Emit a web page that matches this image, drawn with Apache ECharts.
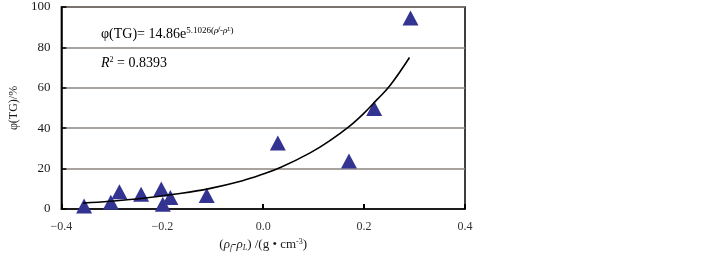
<!DOCTYPE html>
<html><head><meta charset="utf-8">
<script src="https://cdn.jsdelivr.net/npm/echarts@6/dist/echarts.min.js"></script>
<style>html,body{margin:0;padding:0;background:#fff}#c{width:722px;height:257px}</style>
</head><body><div id="c"></div>
<script>
// Measured samples (density difference, g/cm3) and φ(TG) %
const sampleX = [-0.355, -0.302, -0.285, -0.242, -0.202, -0.199, -0.184, -0.112, 0.029, 0.170, 0.220, 0.292];
const sampleY = [1.5, 3.4, 8.6, 7.3, 9.9, 2.4, 5.7, 6.7, 32.7, 23.8, 49.8, 94.5];
// Fitted trend curve
const curveX = [-0.357, -0.304, -0.238, -0.173, -0.107, -0.041, 0.000, 0.034, 0.093, 0.130, 0.172, 0.200, 0.225, 0.251, 0.290];
const curveY = [2.9, 3.8, 5.3, 7.4, 10.1, 14.0, 17.3, 20.5, 27.8, 33.5, 41.2, 47.5, 54.0, 61.0, 75.0];
const xTicks = [-0.4, -0.2, 0.0, 0.2, 0.4];
const yTicks = [0, 20, 40, 60, 80, 100];

const serif = '"Liberation Serif","DejaVu Serif",serif';
const ink = '#1a1a1a';
const chart = echarts.init(document.getElementById('c'), null, {renderer: 'canvas'});
chart.setOption({
  animation: false,
  grid: {left: 58, right: 257, top: 7, bottom: 44, show: true, borderColor: '#000', borderWidth: 1.5, backgroundColor: 'transparent'},
  xAxis: {
    type: 'value', min: -0.4, max: 0.4, interval: 0.2,
    axisLine: {show: true, onZero: false, lineStyle: {color: '#000', width: 1.5}},
    axisTick: {show: true, inside: true, length: 5, lineStyle: {color: '#000', width: 2}},
    splitLine: {show: false},
    axisLabel: {color: '#333', fontFamily: serif, fontSize: 12, margin: 12,
      formatter: v => { const t = xTicks.find(a => Math.abs(a - v) < 1e-9); return t === undefined ? '' : (t < 0 ? '\u2212' + Math.abs(t).toFixed(1) : t.toFixed(1)); }},
    name: '{p|(}{i|ρ}{s|f}{p|-}{i|ρ}{s|L}{p|) /(g • cm}{sup|-3}{p|)}',
    nameLocation: 'middle', nameGap: 29,
    nameTextStyle: {rich: {
      p: {fontFamily: serif, fontSize: 13, color: ink},
      i: {fontFamily: serif, fontSize: 13, color: ink, fontStyle: 'italic'},
      s: {fontFamily: serif, fontSize: 8, color: ink, fontStyle: 'italic', verticalAlign: 'bottom', padding: [6, 0, 0, 0]},
      sup: {fontFamily: serif, fontSize: 8, color: ink, verticalAlign: 'top', padding: [0, 0, 6, 0]}
    }}
  },
  yAxis: {
    type: 'value', min: 0, max: 100, interval: 20,
    axisLine: {show: true, onZero: false, lineStyle: {color: '#000', width: 1.5}},
    axisTick: {show: true, inside: true, length: 5, lineStyle: {color: '#000', width: 1.5}},
    splitLine: {show: true, lineStyle: {color: '#8c8480', width: 1.5}},
    axisLabel: {color: ink, fontFamily: serif, fontSize: 13, margin: 11,
      formatter: v => yTicks.includes(v) ? String(v) : ''},
    name: 'φ(TG)/%', nameLocation: 'middle', nameGap: 38, nameRotate: 90,
    nameTextStyle: {fontFamily: serif, fontSize: 12, color: ink}
  },
  series: [
    {
      type: 'line', data: curveX.map((x, i) => [x, curveY[i]]),
      smooth: 0.4, showSymbol: false, symbol: 'none',
      lineStyle: {color: '#000', width: 1.6}, z: 3
    },
    {
      type: 'scatter', data: sampleX.map((x, i) => [x, sampleY[i]]),
      symbol: 'triangle', symbolSize: [16, 15],
      itemStyle: {color: '#333391', opacity: 1}, z: 2
    }
  ],
  graphic: [
    {type: 'text', left: 101, top: 26, style: {
      text: '{a|φ(TG)= 14.86e}{e|5.1026(}{ei|ρ}{es|f}{e|-}{ei|ρ}{es|L}{e|)}',
      rich: {
        a: {fontFamily: serif, fontSize: 14, color: ink},
        e: {fontFamily: serif, fontSize: 9, color: ink, verticalAlign: 'top', padding: [0, 0, 8, 0]},
        ei: {fontFamily: serif, fontSize: 9, color: ink, fontStyle: 'italic', verticalAlign: 'top', padding: [0, 0, 8, 0]},
        es: {fontFamily: serif, fontSize: 6, color: ink, fontStyle: 'italic', verticalAlign: 'top', padding: [0, 0, 4, 0]}
      }}},
    {type: 'text', left: 101, top: 56, style: {
      text: '{i|R}{s|2}{a| = 0.8393}',
      rich: {
        i: {fontFamily: serif, fontSize: 14, color: ink, fontStyle: 'italic'},
        s: {fontFamily: serif, fontSize: 8, color: ink, verticalAlign: 'top', padding: [0, 0, 7, 0]},
        a: {fontFamily: serif, fontSize: 14, color: ink}
      }}}
  ]
});
</script></body></html>
